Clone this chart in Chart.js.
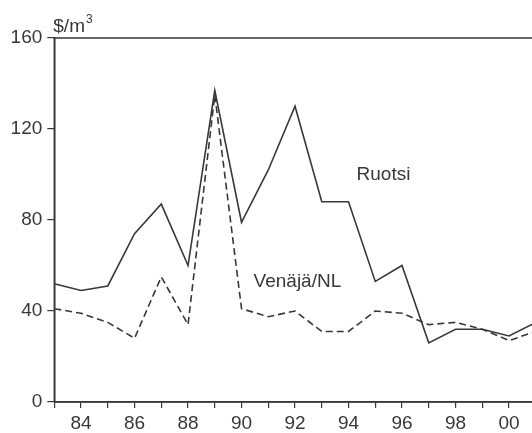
<!DOCTYPE html>
<html>
<head>
<meta charset="utf-8">
<script src="https://cdn.jsdelivr.net/npm/chart.js@4.4.1/dist/chart.umd.min.js"></script>
<style>
  html, body { margin: 0; padding: 0; background: #fff; overflow: hidden; }
  #wrap { width: 532px; height: 433px; position: relative; }
</style>
</head>
<body>
<div id="wrap"><canvas id="chart"></canvas></div>
<script>
// years 1983..2001, shown as two-digit labels
const years = [83, 84, 85, 86, 87, 88, 89, 90, 91, 92, 93, 94, 95, 96, 97, 98, 99, 100, 101];
const ruotsi = [52, 49, 51, 74, 87, 60, 137, 79, 102, 130, 88, 88, 53, 60, 26, 32, 32, 29, 35];
const venaja = [41, 39, 35, 28, 55, 34, 135, 41, 37.5, 40, 31, 31, 40, 39, 34, 35, 32, 27, 31];
const yTicks = [0, 40, 80, 120, 160];

const FONT = 'Liberation Sans, Arial, sans-serif';
const INK = '#383838';

// frame round the plot area, unit label and series captions
const extras = {
    id: 'extras',
    afterDraw(chart) {
        const { ctx, chartArea: a, scales } = chart;
        ctx.save();
        ctx.strokeStyle = INK;
        ctx.lineWidth = 1.5;
        ctx.strokeRect(a.left, a.top, a.right - a.left + 4, a.bottom - a.top);

        ctx.fillStyle = INK;
        ctx.font = '19px ' + FONT;
        ctx.textBaseline = 'alphabetic';
        ctx.textAlign = 'left';
        ctx.fillText('$/m', a.left - 1, a.top - 6);
        const w = ctx.measureText('$/m').width;
        ctx.font = '12px ' + FONT;
        ctx.fillText('3', a.left - 1 + w + 1, a.top - 15);

        ctx.font = '19px ' + FONT;
        ctx.textBaseline = 'middle';
        ctx.fillText('Ruotsi', scales.x.getPixelForValue(94.3), scales.y.getPixelForValue(100));
        ctx.fillText('Venäjä/NL', scales.x.getPixelForValue(90.45), scales.y.getPixelForValue(52.7));
        ctx.restore();
    }
};

new Chart(document.getElementById('chart'), {
    type: 'line',
    data: {
        datasets: [
            {
                label: 'Ruotsi',
                data: years.map((y, i) => ({ x: y, y: ruotsi[i] })),
                borderColor: INK,
                borderWidth: 1.6,
                pointRadius: 0,
                tension: 0
            },
            {
                label: 'Venäjä/NL',
                data: years.map((y, i) => ({ x: y, y: venaja[i] })),
                borderColor: INK,
                borderWidth: 1.6,
                borderDash: [7, 4],
                pointRadius: 0,
                tension: 0
            }
        ]
    },
    options: {
        responsive: true,
        maintainAspectRatio: false,
        animation: false,
        layout: { padding: { top: 38, left: 0, right: 0, bottom: 0 } },
        plugins: { legend: { display: false }, tooltip: { enabled: false } },
        scales: {
            x: {
                type: 'linear',
                min: 83,
                max: 100.86,
                afterFit: s => { s.height = 31; },
                afterBuildTicks: s => { s.ticks = years.filter(v => v <= 100.86).map(v => ({ value: v })); },
                border: { display: true, color: INK, width: 1.5 },
                grid: { drawOnChartArea: false, color: INK, tickLength: 6, lineWidth: 1.2 },
                ticks: {
                    color: INK,
                    font: { family: FONT, size: 19 },
                    padding: 4,
                    maxRotation: 0,
                    autoSkip: false,
                    callback: v => v % 2 === 0 ? String(v % 100).padStart(2, '0') : ''
                }
            },
            y: {
                min: 0,
                max: 160,
                afterFit: s => { s.width = 54.3; },
                afterBuildTicks: s => { s.ticks = yTicks.map(v => ({ value: v })); },
                border: { display: true, color: INK, width: 1.5 },
                grid: { drawOnChartArea: false, color: INK, tickLength: 7, lineWidth: 1.2 },
                ticks: {
                    color: INK,
                    font: { family: FONT, size: 19 },
                    padding: 5
                }
            }
        }
    },
    plugins: [extras]
});
</script>
</body>
</html>
